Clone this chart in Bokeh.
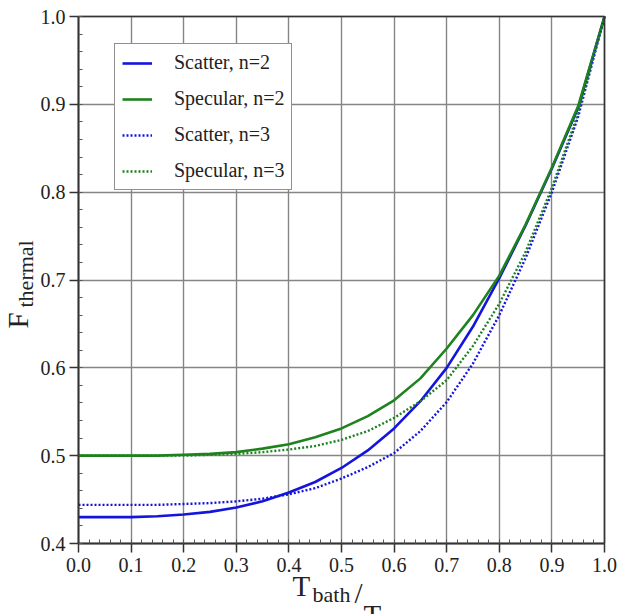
from bokeh.plotting import figure
from bokeh.models import (FixedTicker, PrintfTickFormatter, Label, Legend, LegendItem,
                          LinearAxis, Grid, Range1d)
from bokeh.embed import file_html
from bokeh.resources import INLINE

# ---- data ----
t_ratio = [0.00, 0.05, 0.10, 0.15, 0.20, 0.25, 0.30, 0.35, 0.40, 0.45, 0.50,
           0.55, 0.60, 0.65, 0.70, 0.75, 0.80, 0.85, 0.90, 0.95, 1.00]
scatter_n2 = [0.430, 0.430, 0.430, 0.431, 0.433, 0.436, 0.441, 0.448, 0.458, 0.470, 0.486,
              0.506, 0.531, 0.562, 0.600, 0.647, 0.702, 0.762, 0.827, 0.896, 1.000]
specular_n2 = [0.500, 0.500, 0.500, 0.500, 0.501, 0.502, 0.504, 0.508, 0.513, 0.521, 0.531,
               0.545, 0.563, 0.588, 0.622, 0.660, 0.705, 0.763, 0.828, 0.898, 1.000]
scatter_n3 = [0.444, 0.444, 0.444, 0.444, 0.445, 0.446, 0.448, 0.451, 0.456, 0.463, 0.474,
              0.487, 0.503, 0.528, 0.561, 0.605, 0.660, 0.725, 0.800, 0.886, 1.000]
specular_n3 = [0.500, 0.500, 0.500, 0.500, 0.500, 0.501, 0.502, 0.504, 0.507, 0.511, 0.518,
               0.528, 0.543, 0.562, 0.586, 0.625, 0.673, 0.732, 0.805, 0.890, 1.000]
series_names = ["Scatter, n=2", "Specular, n=2", "Scatter, n=3", "Specular, n=3"]
x_ticks = [0.0, 0.1, 0.2, 0.3, 0.4, 0.5, 0.6, 0.7, 0.8, 0.9, 1.0]
y_ticks = [0.4, 0.5, 0.6, 0.7, 0.8, 0.9, 1.0]
x_lim = (0.0, 1.0)
y_lim = (0.4, 1.0)

BLUE = "#1414dc"
GREEN = "#1e821e"
FONT = "Liberation Serif"
INK = "#222222"

# ---- layout: the frame fills the canvas; the plot box sits at these pixels ----
W, H = 619, 614
BOX_L, BOX_R, BOX_T, BOX_B = 78, 604, 16, 543
xs = (x_lim[1] - x_lim[0]) / (BOX_R - BOX_L)
ys = (y_lim[1] - y_lim[0]) / (BOX_B - BOX_T)
x_range = Range1d(x_lim[0] - BOX_L * xs, x_lim[1] + (W - BOX_R) * xs)
y_range = Range1d(y_lim[0] - (H - BOX_B) * ys, y_lim[1] + BOX_T * ys)

p = figure(width=W, height=H, x_range=x_range, y_range=y_range,
           output_backend="svg", toolbar_location=None,
           x_axis_location=None, y_axis_location=None,
           min_border_left=0, min_border_right=0, min_border_top=0, min_border_bottom=0)
p.background_fill_color = "white"
p.border_fill_color = "white"
p.outline_line_color = None
p.xgrid.visible = False
p.ygrid.visible = False

x_minor = [round(x_lim[0] + i * 0.02, 3) for i in range(51)]
y_minor = [round(y_lim[0] + i * 0.02, 3) for i in range(31)]

# grid lines limited to the plot box
xg = Grid(dimension=0, ticker=FixedTicker(ticks=x_ticks), bounds=x_lim,
          grid_line_color="#858585", grid_line_width=1.4)
yg = Grid(dimension=1, ticker=FixedTicker(ticks=y_ticks), bounds=y_lim,
          grid_line_color="#858585", grid_line_width=1.4)
if "cross_bounds" in Grid.properties():
    xg.cross_bounds = y_lim
    yg.cross_bounds = x_lim
p.add_layout(xg, "center")
p.add_layout(yg, "center")

def style_axis(ax):
    ax.formatter = PrintfTickFormatter(format="%.1f")
    ax.axis_line_color = "#333333"
    ax.axis_line_width = 2
    ax.major_tick_line_color = "#333333"
    ax.major_tick_line_width = 1.5
    ax.major_tick_out = 9
    ax.major_tick_in = 0
    ax.minor_tick_line_color = "#555555"
    ax.minor_tick_line_width = 1
    ax.minor_tick_in = 4
    ax.minor_tick_out = 0
    ax.major_label_text_font = FONT
    ax.major_label_text_font_size = "20px"
    ax.major_label_text_color = INK

xaxis = LinearAxis(fixed_location=y_lim[0], bounds=x_lim,
                   ticker=FixedTicker(ticks=x_ticks, minor_ticks=x_minor))
yaxis = LinearAxis(fixed_location=x_lim[0], bounds=y_lim,
                   ticker=FixedTicker(ticks=y_ticks, minor_ticks=y_minor))
style_axis(xaxis)
style_axis(yaxis)
xaxis.major_label_standoff = 5
yaxis.major_label_standoff = 4
p.add_layout(xaxis, "below")
p.add_layout(yaxis, "left")

# top and right edges of the plot box
for side, loc, bnd in (("above", y_lim[1], x_lim), ("right", x_lim[1], y_lim)):
    ax = LinearAxis(fixed_location=loc, bounds=bnd, ticker=FixedTicker(ticks=[]),
                    axis_line_color="#333333", axis_line_width=1.6,
                    major_tick_line_color=None, minor_tick_line_color=None)
    p.add_layout(ax, side)

r1 = p.line(t_ratio, scatter_n2, line_color=BLUE, line_width=2.6)
r2 = p.line(t_ratio, specular_n2, line_color=GREEN, line_width=2.6)
r3 = p.line(t_ratio, scatter_n3, line_color=BLUE, line_width=2.4, line_dash="2 2")
r4 = p.line(t_ratio, specular_n3, line_color=GREEN, line_width=2.4, line_dash="2 2")

legend = Legend(items=[LegendItem(label=series_names[0], renderers=[r1]),
                       LegendItem(label=series_names[1], renderers=[r2]),
                       LegendItem(label=series_names[2], renderers=[r3]),
                       LegendItem(label=series_names[3], renderers=[r4])],
                location=(114, 424))
legend.label_text_font = FONT
legend.label_text_font_size = "20px"
legend.label_text_color = INK
legend.label_height = 20
legend.glyph_height = 20
legend.glyph_width = 30
legend.label_standoff = 22
legend.spacing = 13
legend.padding = 7
legend.margin = 0
legend.border_line_color = INK
legend.border_line_width = 1.6
legend.background_fill_color = "white"
legend.background_fill_alpha = 1.0
p.add_layout(legend)

# axis titles with subscripts (screen pixels, frame = whole canvas)
SHIFT = 12  # offset between requested anchor and drawn baseline
def lab(txt, x, y, size, angle=0.0):
    p.add_layout(Label(x=x, y=y, x_units="screen", y_units="screen", text=txt,
                       text_font=FONT, text_font_size=size, text_color=INK,
                       text_baseline="alphabetic", text_align="left", angle=angle))

lab("T", 292, H - 597 + SHIFT, "29px")
lab("bath", 312, H - 606 + SHIFT, "22px")
lab("/", 354, H - 604 + SHIFT, "29px")
lab("T", 363, H - 626 + SHIFT, "29px")
lab("0", 380, H - 633 + SHIFT, "22px")

lab("F", 30 - SHIFT - 1, H - 328, "29px", angle=1.5708)
lab("thermal", 37 - SHIFT, H - 307, "22px", angle=1.5708)

open("out.html", "w").write(file_html(p, INLINE))
